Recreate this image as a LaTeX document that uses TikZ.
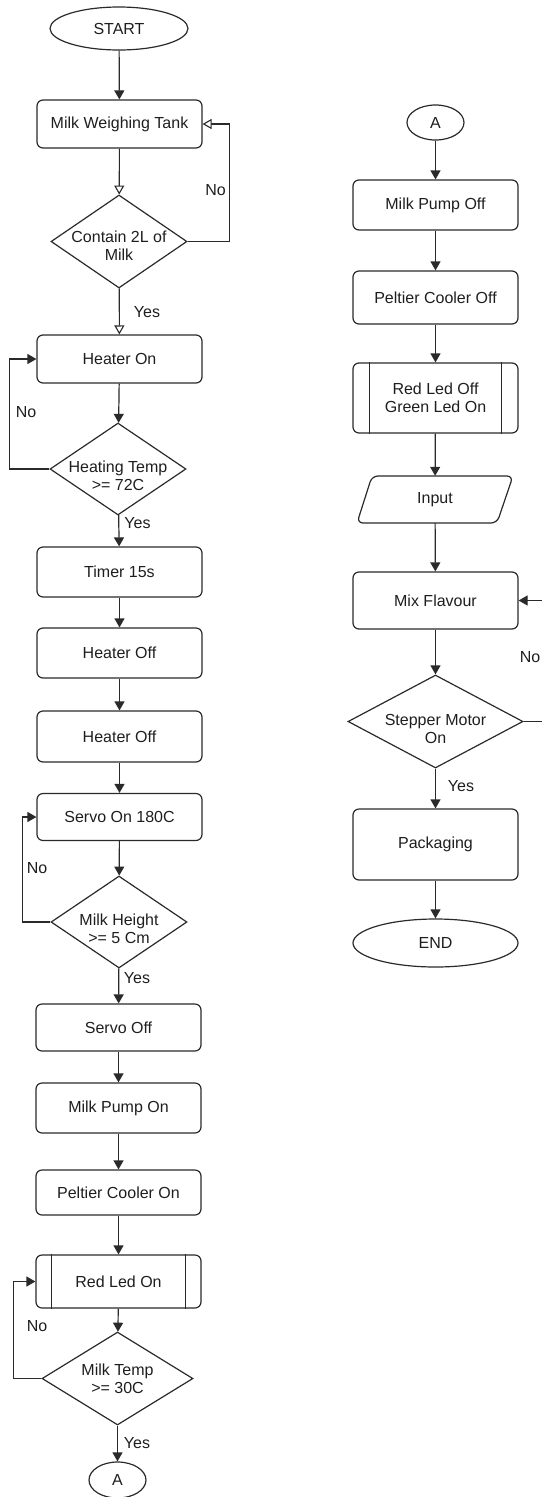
\documentclass[tikz,border=0pt]{standalone}
\usepackage{fontspec}
\setmainfont{Liberation Sans}
\usetikzlibrary{arrows.meta,shapes.geometric,calc}
\definecolor{ln}{HTML}{2A2A2A}
\definecolor{txt}{HTML}{1E1E1E}
\begin{document}
\begin{tikzpicture}[x=1pt,y=-1pt,
  every node/.style={font=\fontsize{16}{18}\selectfont, text=txt},
  proc/.style={draw=ln, line width=1.2pt, rounded corners=6pt, minimum width=165pt, inner sep=0pt, align=center},
  dec/.style={draw=ln, line width=1.2pt, diamond, inner sep=0pt, minimum width=136pt, minimum height=93pt},
  term/.style={draw=ln, line width=1.2pt, ellipse, inner sep=0pt},
  arr/.style={draw=ln, line width=1.2pt, -{Triangle[width=10pt,length=9pt]}},
  oarr/.style={draw=ln, line width=1.1pt, -{Triangle[open,width=10pt,length=9pt,fill=white]}},
  lbl/.style={inner sep=0pt},
  pline/.style={draw=ln, line width=1.2pt}
]
\useasboundingbox (0,0) rectangle (541,1497);

% ---------------- left column ----------------
\node[term, minimum width=138pt, minimum height=43pt] (start) at (119,28.5) {START};
\node[proc, minimum height=48pt] (tank) at (119.5,124) {Milk Weighing Tank};
\node[dec] (contain) at (119,241.5) {};
\node[align=center, inner sep=0pt] (containT) at (119,246) {Contain 2L of\\Milk};
\node[proc, minimum height=48pt] (heaton) at (119.5,359) {Heater On};
\node[dec, minimum height=92pt] (heating) at (118,469) {};
\node[align=center, inner sep=0pt] (heatingT) at (118,476) {Heating Temp\\>= 72C};
\node[proc, minimum height=50pt] (timer) at (119.5,572) {Timer 15s};
\node[proc, minimum height=50pt] (hoffa) at (119.5,653) {Heater Off};
\node[proc, minimum height=51pt] (hoffb) at (119.5,736.5) {Heater Off};
\node[proc, minimum height=47pt] (servoon) at (119.5,817) {Servo On 180C};
\node[dec, minimum height=92pt] (height) at (119,922) {};
\node[align=center, inner sep=0pt] (heightT) at (119,929) {Milk Height\\>= 5 Cm};
\node[proc, minimum height=47pt] (servooff) at (118.5,1027.5) {Servo Off};
\node[proc, minimum height=50pt] (pumpon) at (118.5,1108) {Milk Pump On};
\node[proc, minimum height=45pt] (peltieron) at (118.5,1192.5) {Peltier Cooler On};
\node[proc, minimum height=53pt] (redon) at (118.5,1281.5) {Red Led On};
\draw[pline] ([xshift=16pt]redon.north west) -- ([xshift=16pt]redon.south west);
\draw[pline] ([xshift=-16pt]redon.north east) -- ([xshift=-16pt]redon.south east);
\node[dec, minimum width=151pt] (milktemp) at (117.5,1378.5) {};
\node[align=center, inner sep=0pt] (milktempT) at (117.5,1379) {Milk Temp\\>= 30C};
\node[term, minimum width=57pt, minimum height=36pt] (aone) at (117.5,1480) {A};

\draw[arr] (start) -- (tank);
\draw[oarr] (tank) -- (contain);
\draw[oarr] (contain.east) -- ++(42,0) |- (tank.east);
\draw[oarr] (contain) -- (heaton);
\draw[arr] (heaton) -- (heating);
\draw[arr] (heating.west) -- ++(-40,0) |- (heaton.west);
\draw[arr] (heating) -- (timer);
\draw[arr] (timer) -- (hoffa);
\draw[arr] (hoffa) -- (hoffb);
\draw[arr] (hoffb) -- (servoon);
\draw[arr] (servoon) -- (height);
\draw[arr] (height.west) -- ++(-28,0) |- (servoon.west);
\draw[arr] (height) -- (servooff);
\draw[arr] (servooff) -- (pumpon);
\draw[arr] (pumpon) -- (peltieron);
\draw[arr] (peltieron) -- (redon);
\draw[arr] (redon) -- (milktemp);
\draw[arr] (milktemp.west) -- ++(-28,0) |- (redon.west);
\draw[arr] (milktemp) -- (aone);

\node[lbl] (no1) at (215.5,190) {No};
\node[lbl] (yes1) at (147,312) {Yes};
\node[lbl] (no2) at (26,412) {No};
\node[lbl] (yes2) at (137.5,523) {Yes};
\node[lbl] (no3) at (37,868) {No};
\node[lbl] (yes3) at (137,978) {Yes};
\node[lbl] (no4) at (37,1326) {No};
\node[lbl] (yes4) at (137,1443) {Yes};

% ---------------- right column ----------------
\node[term, minimum width=57pt, minimum height=35pt] (atwo) at (435.5,122.5) {A};
\node[proc, minimum height=50pt] (pumpoff) at (435.5,205) {Milk Pump Off};
\node[proc, minimum height=53pt] (peltieroff) at (435.5,297.5) {Peltier Cooler Off};
\node[proc, minimum height=70pt] (leds) at (435.5,398) {Red Led Off\\Green Led On};
\draw[pline] ([xshift=17pt]leds.north west) -- ([xshift=17pt]leds.south west);
\draw[pline] ([xshift=-17pt]leds.north east) -- ([xshift=-17pt]leds.south east);
\draw[pline, rounded corners=6pt] (372,476) -- (513,476) -- (497,523) -- (357,523) -- cycle;
\node[minimum width=140pt, minimum height=47pt, inner sep=0pt] (input) at (435,499.5) {Input};
\node[proc, minimum height=57pt] (mix) at (435.5,600.5) {Mix Flavour};
\node[dec, minimum width=175pt] (stepper) at (435.5,721.5) {};
\node[align=center, inner sep=0pt] (stepperT) at (435.5,729) {Stepper Motor\\On};
\node[proc, minimum height=71pt] (pack) at (435.5,844.5) {Packaging};
\node[term, minimum width=165pt, minimum height=48pt] (finish) at (435.5,943) {END};

\draw[arr] (atwo) -- (pumpoff);
\draw[arr] (pumpoff) -- (peltieroff);
\draw[arr] (peltieroff) -- (leds);
\draw[arr] (leds) -- (input);
\draw[arr] (input) -- (mix);
\draw[arr] (mix) -- (stepper);
\draw[arr] (stepper.east) -- ++(25,0) |- (mix.east);
\draw[arr] (stepper) -- (pack);
\draw[arr] (pack) -- (finish);

\node[lbl] (no5) at (530,657) {No};
\node[lbl] (yes5) at (461,786) {Yes};
\end{tikzpicture}
\end{document}
